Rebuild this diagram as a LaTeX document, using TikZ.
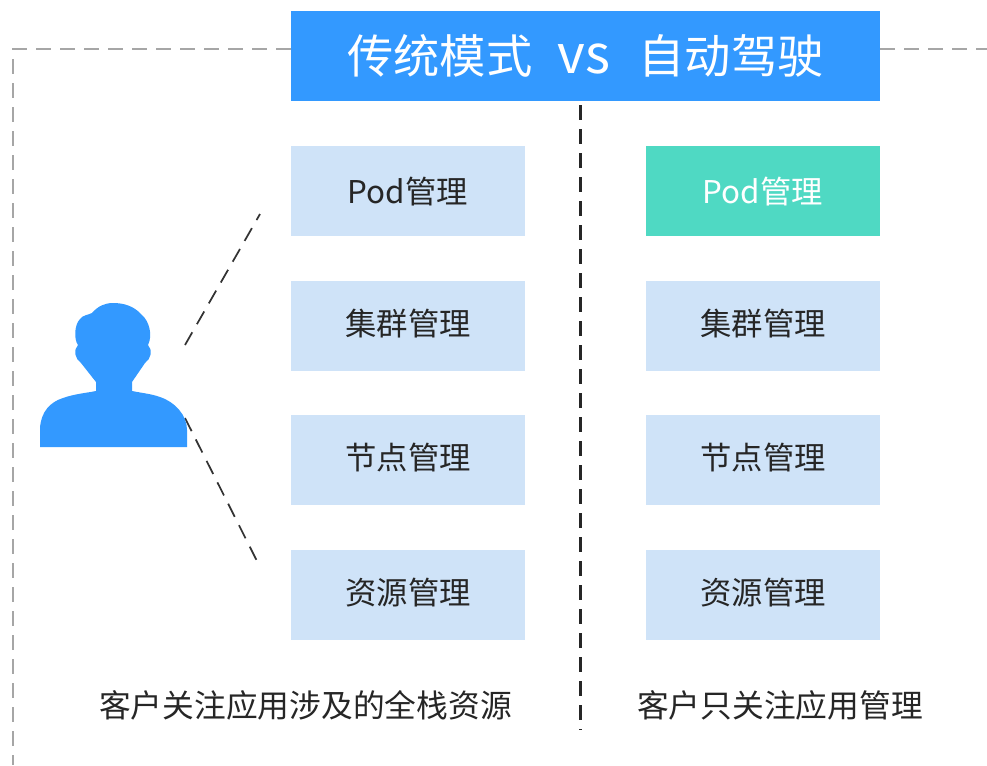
\documentclass[tikz,border=0pt]{standalone}
\usepackage{fontspec}
\setmainfont{Noto Sans CJK SC}
\usepackage{xcolor}
\usetikzlibrary{positioning}
\definecolor{title-blue}{HTML}{3399FF}
\definecolor{box-blue}{HTML}{CFE3F8}
\definecolor{box-teal}{HTML}{4FD9C3}
\tikzset{
    title-box/.style = {fill=title-blue, text=white, minimum width=441.75pt, minimum height=67.5pt, inner sep=0pt, font=\fontsize{34.7}{40}\selectfont},
    item-box/.style = {fill=box-blue, text=black!85, minimum width=175.5pt, minimum height=67.5pt, inner sep=0pt, text depth=5.7pt, font=\fontsize{23.5}{28}\selectfont},
    pod-box/.style = {item-box, text depth=1.3pt},
    foot-text/.style = {text=black!85, inner sep=0pt, font=\fontsize{23.8}{28}\selectfont},
    frame-line/.style = {draw=black!35, line width=0.8pt, dash pattern=on 11pt off 7pt},
    split-line/.style = {draw=black!85, line width=1.9pt, dash pattern=on 11pt off 7pt},
    link-line/.style = {draw=black!80, line width=1.3pt, dash pattern=on 11pt off 7pt},
}

\begin{document}
\begin{tikzpicture}[x=0.75pt, y=-0.75pt, node distance=33.1pt]
\useasboundingbox (0,0) rectangle (987,765);

\coordinate (frame-corner) at (13,49);
\coordinate (frame-foot) at (13,765);
\coordinate (frame-end) at (987,49);
\coordinate (split-top) at (580.5,105);
\coordinate (split-foot) at (580.5,730);
\coordinate (link-a) at (185,345);
\coordinate (link-b) at (260,214);
\coordinate (link-c) at (185,418);
\coordinate (link-d) at (260,567);

\node [title-box] (title) at (585.5,56) {传统模式\hspace{0.55em}{\fontsize{40}{40}\selectfont vs}\hspace{0.6em}自动驾驶};

\node [pod-box] (pod-left) at (408,191) {Pod管理};
\node [item-box, below=of pod-left] (cluster-left) {集群管理};
\node [item-box, below=of cluster-left] (node-left) {节点管理};
\node [item-box, below=of node-left] (res-left) {资源管理};

\node [pod-box, fill=box-teal, text=white] (pod-right) at (763,191) {Pod管理};
\node [item-box, below=of pod-right] (cluster-right) {集群管理};
\node [item-box, below=of cluster-right] (node-right) {节点管理};
\node [item-box, below=of node-right] (res-right) {资源管理};

\node [foot-text] (foot-left) at (305.5,705) {客户关注应用涉及的全栈资源};
\node [foot-text] (foot-right) at (780,705) {客户只关注应用管理};

\draw [frame-line] (title.west |- frame-corner) -- (frame-corner) -- (frame-foot);
\draw [frame-line] (title.east |- frame-corner) -- (frame-end);
\draw [split-line] (split-top) -- (split-foot);
\draw [link-line] (link-a) -- (link-b);
\draw [link-line] (link-c) -- (link-d);

% person
\fill [title-blue] (40,447) -- (40,428) .. controls (41,412) and (50,402) .. (63,398)
    .. controls (74,394) and (86,393) .. (96,391) -- (96,382) -- (81,363)
    .. controls (75,359) and (73,350) .. (78,345) .. controls (74,340) and (74,325) .. (80,319)
    .. controls (83,315) and (88,315) .. (92,313) .. controls (98,306) and (105,303) .. (113,303)
    .. controls (124,303) and (134,306) .. (142,315) .. controls (149,321) and (153,335) .. (148,345)
    .. controls (153,350) and (151,359) .. (145,363)
    -- (132,382) -- (132,391) .. controls (142,393) and (152,394) .. (160,397)
    .. controls (175,402) and (187,415) .. (187,430) -- (187,447) -- cycle;
\end{tikzpicture}
\end{document}
